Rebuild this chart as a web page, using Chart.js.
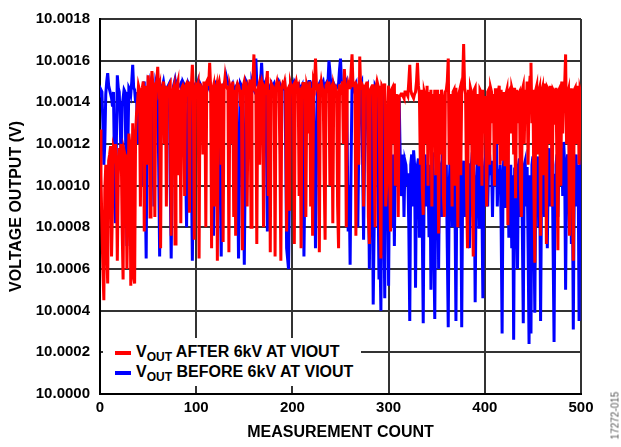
<!DOCTYPE html>
<html>
<head>
<meta charset="utf-8">
<script src="https://cdn.jsdelivr.net/npm/chart.js@4/dist/chart.umd.min.js"></script>
<style>
  body { margin: 0; background: #fff; }
  #wrap { position: relative; width: 621px; height: 447px; }
  #legend {
    position: absolute; left: 103px; top: 338px; width: 258px; height: 48px;
    background: #fff; font: bold 16px Arial, "Liberation Sans", sans-serif; color: #000;
  }
  #legend .row { position: absolute; left: 12px; height: 20px; line-height: 20px; white-space: nowrap; }
  #legend .swatch { display: inline-block; width: 16px; height: 4px; vertical-align: middle; margin-right: 5px; }
  #legend sub { font-size: 12px; vertical-align: -4px; line-height: 0; }
  #tag {
    position: absolute; left: 560px; top: 410px; width: 110px; text-align: center;
    transform: rotate(-90deg); font: 10px Arial, "Liberation Sans", sans-serif; color: #555;
  }
</style>
</head>
<body>
<div id="wrap">
  <canvas id="chart" width="621" height="447"></canvas>
  <div id="legend">
    <div class="row" style="top:4px"><span class="swatch" style="background:#ff0000"></span>V<sub>OUT</sub> AFTER 6kV AT VIOUT</div>
    <div class="row" style="top:24px"><span class="swatch" style="background:#0000ff"></span>V<sub>OUT</sub> BEFORE 6kV AT VIOUT</div>
  </div>
  <div id="tag">17272-015</div>
</div>
<script>
// measurement count 0..500
const counts = [];
for (let c = 0; c <= 500; c++) counts.push(c);

// output voltage, µV above 10.0000 V (20 samples per row)
const afterUV = [
  1270, 1050, 800, 600, 450, 980, 1100, 700, 530, 1120, 1150, 1190, 660, 900, 1180, 1160, 1200, 1100, 640, 1050,
  1180, 1150, 1200, 800, 550, 1170, 1150, 1120, 600, 900, 1250, 1200, 520, 880, 1300, 560, 530, 1250, 1350, 1400,
  1480, 1460, 900, 1450, 1470, 1500, 780, 1420, 1480, 1100, 1530, 1470, 850, 1460, 1550, 1480, 1470, 850, 1490, 1500,
  1570, 1460, 1480, 700, 1460, 1470, 1500, 1200, 1480, 900, 1450, 1470, 1480, 1490, 760, 1450, 1460, 1480, 720, 1460,
  1480, 1500, 1050, 1460, 820, 1470, 1480, 1460, 950, 1480, 1490, 1460, 1500, 870, 1450, 1480, 1580, 1470, 740, 1450,
  1480, 1470, 1490, 650, 1490, 1460, 1480, 1150, 1500, 1460, 800, 1500, 1510, 1480, 1590, 1470, 700, 1460, 1480, 900,
  1460, 1480, 640, 1480, 1500, 1470, 1100, 1490, 730, 1470, 1520, 1480, 1470, 1460, 680, 1480, 1460, 1200, 1500, 850,
  1460, 760, 1470, 1490, 1480, 1460, 1380, 1460, 690, 1480, 1500, 1470, 1480, 900, 1460, 1470, 1510, 800, 1470, 1500,
  1630, 1460, 1450, 720, 1460, 1480, 1100, 1480, 1500, 1470, 800, 1470, 1460, 1490, 1550, 950, 1460, 680, 1490, 1480,
  1470, 1460, 660, 1480, 1500, 1470, 1480, 1150, 640, 1470, 1490, 1480, 1500, 1460, 780, 1460, 1470, 880, 1490, 1470,
  1470, 1480, 720, 1480, 1500, 1470, 1480, 950, 1470, 700, 1470, 1490, 1490, 1460, 850, 1480, 1460, 1250, 1500, 900,
  1470, 760, 1500, 1480, 1610, 1480, 1460, 1490, 680, 1460, 1500, 1470, 1460, 1050, 740, 1480, 1490, 1470, 1500, 1000,
  1470, 1480, 820, 1480, 1460, 1470, 1450, 900, 700, 1480, 1480, 1460, 1500, 1200, 1560, 1470, 800, 1460, 1490, 1470,
  1470, 1550, 1630, 1480, 1500, 1470, 760, 1480, 1470, 1100, 1620, 1460, 1490, 1480, 900, 1470, 1480, 1460, 1500, 850,
  720, 1460, 1470, 1480, 1480, 1100, 800, 1470, 1500, 1480, 1460, 1000, 650, 1480, 1470, 1460, 1490, 900, 1000, 1350,
  1480, 1050, 780, 1460, 1470, 1200, 1490, 1000, 1440, 1300, 850, 1430, 1430, 1440, 1440, 1430, 1420, 1450, 1450, 1440,
  1430, 1500, 1580, 1460, 1440, 1430, 1420, 1440, 1450, 1500, 1590, 1480, 1440, 1100, 1460, 1000, 860, 1450, 1430, 1200,
  1480, 1000, 1450, 1250, 1460, 900, 1440, 1300, 1460, 1050, 1420, 1460, 770, 1440, 1150, 1460, 1430, 950, 850, 1450,
  1460, 1500, 1610, 1100, 1440, 1300, 900, 1450, 1460, 1000, 1470, 1200, 800, 1440, 1460, 1050, 1450, 1500, 1680, 1470,
  1440, 1000, 700, 1460, 1200, 1470, 1450, 950, 660, 1460, 1470, 1100, 1440, 1300, 1100, 1460, 1450, 1000, 1460, 1250,
  1430, 1200, 900, 1450, 1460, 1100, 1470, 1450, 1300, 1440, 1000, 1460, 1460, 1200, 1450, 1480, 1100, 1460, 1120, 1350,
  1450, 1100, 1440, 1460, 810, 1450, 1460, 1250, 1470, 1450, 1150, 1470, 940, 1460, 1300, 1440, 1450, 1000, 850, 1460,
  1480, 1200, 1460, 1350, 1500, 1100, 1450, 1520, 1590, 1300, 1460, 1000, 630, 1460, 1480, 1150, 1450, 1470, 760, 1450,
  1470, 1050, 1490, 1460, 720, 1470, 1460, 1200, 1480, 1450, 900, 1460, 1450, 1300, 1470, 1100, 690, 1460, 1470, 1000,
  1500, 1250, 1450, 1480, 1630, 1200, 1440, 1460, 760, 1460, 1460, 1050, 640, 1460, 1470, 1200, 1480, 1450, 1100, 1460,
  1440
];

const beforeUV = [
  1430, 1460, 1450, 1300, 1100, 1200, 1440, 1500, 1540, 1480, 1460, 1440, 1420, 1380, 1450, 1100, 820, 1200, 1530, 1470,
  1450, 1300, 1100, 1380, 1420, 1460, 1450, 1100, 710, 1200, 1470, 1460, 1440, 1500, 1580, 1470, 1460, 1400, 1450, 1200,
  1250, 1400, 1460, 1200, 1000, 1470, 1500, 1000, 650, 1300, 1480, 1460, 1470, 1480, 1460, 1200, 900, 1300, 1490, 1470,
  1470, 1100, 660, 1200, 1480, 1480, 1500, 1470, 1460, 1460, 1470, 1480, 1490, 1000, 650, 1100, 1470, 1490, 1510, 1480,
  1460, 1470, 1480, 1480, 1490, 1460, 1500, 1490, 1470, 1100, 800, 1200, 1490, 1480, 1460, 1100, 640, 1050, 1480, 1470,
  1470, 1480, 1500, 1470, 1490, 1480, 1460, 1460, 1470, 1470, 1480, 1490, 1480, 1470, 1500, 1480, 1460, 1200, 760, 1100,
  1490, 1480, 1470, 1480, 1480, 1000, 660, 1200, 1470, 1490, 1500, 1500, 1510, 1490, 1480, 1460, 1470, 1480, 1490, 1470,
  1460, 1470, 1480, 1100, 650, 1050, 1490, 1480, 1470, 1000, 620, 1100, 1500, 1490, 1480, 1470, 1470, 1480, 1490, 1470,
  1460, 1500, 1610, 1490, 1480, 1480, 1470, 1500, 1590, 1480, 1470, 1490, 1500, 1200, 780, 1100, 1470, 1480, 1490, 1470,
  1480, 1490, 1470, 1470, 1460, 1480, 1500, 1490, 1480, 1460, 1470, 1480, 1490, 1200, 700, 650, 600, 1000, 1470, 1480,
  1490, 1480, 1500, 1490, 1480, 1470, 1470, 1480, 1460, 1470, 1480, 1100, 660, 1050, 1470, 1480, 1490, 1500, 1500, 1470,
  1470, 1490, 1480, 1100, 700, 1100, 1460, 1480, 1490, 1470, 1470, 1490, 1500, 1470, 1480, 1490, 1460, 1500, 1600, 1550,
  1470, 1480, 1500, 1490, 1480, 1460, 1470, 1480, 1490, 1560, 1610, 1500, 1480, 1480, 1470, 1490, 1500, 1200, 780, 1000,
  620, 1100, 1480, 1490, 1470, 1480, 1490, 1100, 800, 1200, 1470, 1490, 1500, 1100, 740, 1150, 1460, 1470, 1480, 1100,
  600, 1000, 1470, 1100, 430, 800, 1480, 1470, 1460, 1000, 550, 700, 400, 1100, 1470, 900, 460, 1200, 1100, 1150,
  520, 1100, 1170, 800, 1100, 1150, 710, 1150, 1180, 1300, 1260, 1420, 1150, 950, 1080, 1150, 850, 1120, 1100, 1000,
  1060, 800, 350, 1100, 1150, 900, 1170, 1100, 510, 1050, 1100, 1130, 750, 1100, 1120, 800, 340, 1050, 1150, 900,
  1100, 1050, 760, 1100, 500, 1100, 1160, 700, 360, 1000, 1120, 1150, 600, 1100, 1080, 850, 1170, 1130, 900, 1050,
  1100, 700, 320, 1000, 1140, 1100, 800, 1150, 1180, 900, 350, 1050, 1100, 1120, 800, 1100, 320, 1000, 1120, 850,
  1080, 1100, 1150, 800, 700, 1100, 1100, 1160, 850, 1050, 440, 1000, 1100, 1150, 800, 1100, 1080, 900, 460, 1050,
  1110, 1150, 1230, 900, 1100, 1150, 1050, 1120, 850, 1100, 1120, 1200, 1240, 900, 1080, 1000, 1100, 800, 290, 1050,
  1160, 900, 1090, 1100, 1120, 750, 1000, 1100, 700, 1050, 260, 1080, 1080, 900, 600, 1100, 1130, 850, 1100, 800,
  340, 1100, 1120, 900, 1090, 700, 240, 1050, 290, 1100, 1140, 800, 390, 1050, 1100, 1140, 800, 1080, 350, 1000,
  1120, 1140, 850, 1100, 1090, 700, 1100, 1180, 900, 1100, 1200, 700, 250, 1050, 1100, 1150, 850, 1100, 1090, 1150,
  1180, 950, 1210, 1100, 500, 1050, 1150, 1120, 800, 1100, 720, 1050, 310, 1000, 1120, 1150, 900, 1100, 350, 1050,
  1120
];

const fontFamily = 'Arial, "Liberation Sans", sans-serif';

const ctx = document.getElementById('chart').getContext('2d');
new Chart(ctx, {
    type: 'line',
    data: {
        labels: counts,
        datasets: [
            { label: 'AFTER', data: afterUV, borderColor: '#ff0000', borderWidth: 3 },
            { label: 'BEFORE', data: beforeUV, borderColor: '#0000ff', borderWidth: 3 }
        ]
    },
    options: {
        responsive: false,
        animation: false,
        events: [],
        elements: { point: { radius: 0 }, line: { tension: 0 } },
        layout: { padding: { left: 0, top: 12, right: 40, bottom: 0 } },
        plugins: { legend: { display: false }, tooltip: { enabled: false } },
        scales: {
            x: {
                type: 'linear',
                min: 0,
                max: 500,
                afterFit: (scale) => { scale.height = 53; },
                ticks: { stepSize: 100, padding: 5, color: '#000', font: { family: fontFamily, size: 15, weight: 'bold' } },
                grid: { color: '#333', lineWidth: 2, drawTicks: false },
                border: { color: '#000', width: 2 },
                title: { display: true, text: 'MEASUREMENT COUNT', color: '#000', padding: { bottom: 5 },
                         font: { family: fontFamily, size: 16, weight: 'bold' } }
            },
            y: {
                min: 0,
                max: 1800,
                afterFit: (scale) => { scale.width = 100; },
                ticks: {
                    stepSize: 200, padding: 10, color: '#000',
                    font: { family: fontFamily, size: 15, weight: 'bold' },
                    callback: (v) => (10 + v / 1e6).toFixed(4)
                },
                grid: { color: '#333', lineWidth: 2, drawTicks: false },
                border: { color: '#000', width: 2 },
                title: { display: true, text: 'VOLTAGE OUTPUT (V)', color: '#000', padding: { top: 7 },
                         font: { family: fontFamily, size: 16, weight: 'bold' } }
            }
        }
    }
});
</script>
</body>
</html>
